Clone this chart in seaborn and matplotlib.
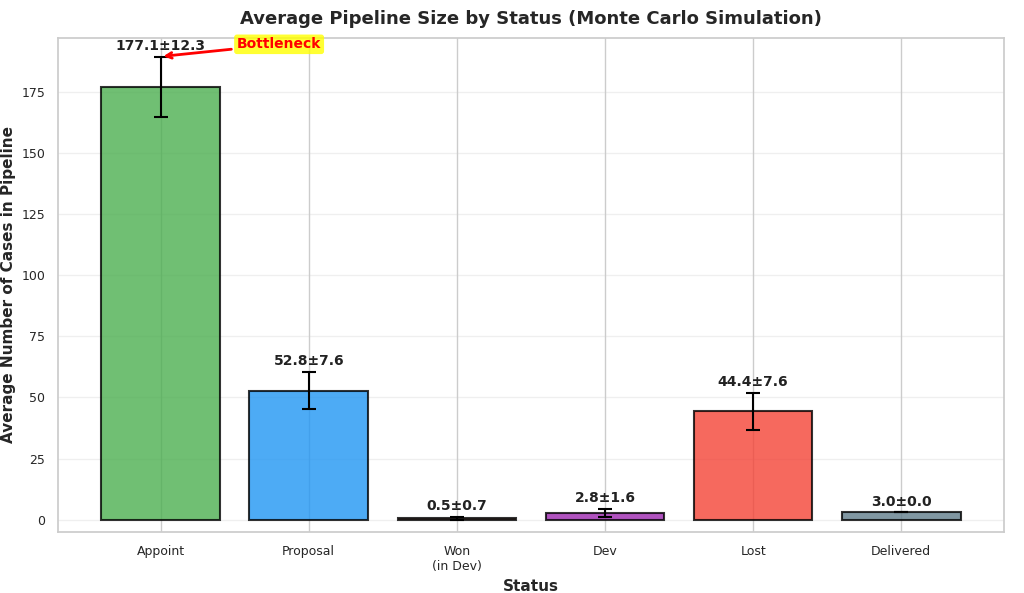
import matplotlib
matplotlib.use("Agg")
import matplotlib.pyplot as plt
import seaborn as sns

statuses = ["Appoint", "Proposal", "Won\n(in Dev)", "Dev", "Lost", "Delivered"]
means = [177.1, 52.8, 0.5, 2.8, 44.4, 3.0]
stds = [12.3, 7.6, 0.7, 1.6, 7.6, 0.0]
colors = ["#4CAF50", "#2196F3", "#795548", "#9C27B0", "#F44336", "#607D8B"]

sns.set_theme(style="whitegrid")
plt.rcParams['font.family'] = ['DejaVu Sans']
fig, ax = plt.subplots(figsize=(10.24, 5.93), dpi=100)
x = list(range(len(statuses)))
ax.bar(x, means, yerr=stds, color=colors, alpha=0.8, edgecolor="black", linewidth=1.5,
       capsize=5, error_kw=dict(ecolor="black", elinewidth=1.5, capthick=1.5), width=0.8)
for xi, m, s in zip(x, means, stds):
    ax.text(xi, m + s + 1.5, f"{m:.1f}±{s:.1f}", ha="center", va="bottom",
            fontsize=10, fontweight="bold", color="#222222")
ax.annotate("Bottleneck", xy=(0, means[0] + stds[0]), xytext=(0.8, means[0] + stds[0] + 5),
            ha="center", va="center", fontsize=10, fontweight="bold", color="red",
            bbox=dict(boxstyle="round,pad=0.2", fc="yellow", ec="none", alpha=0.8),
            arrowprops=dict(arrowstyle="->", color="red", lw=2))
ax.set_xticks(x)
ax.set_xticklabels(statuses, fontsize=9)
ax.tick_params(axis="y", labelsize=9)
ax.set_ylim(-5, 197)
ax.set_xlabel("Status", fontsize=11, fontweight="bold")
ax.set_ylabel("Average Number of Cases in Pipeline", fontsize=11, fontweight="bold")
ax.set_title("Average Pipeline Size by Status (Monte Carlo Simulation)", fontsize=13, fontweight="bold", pad=10)
ax.grid(axis="y", alpha=0.3)
for sp in ax.spines.values():
    sp.set_color("#cccccc")
fig.subplots_adjust(left=0.057, right=0.98, top=0.936, bottom=0.103)
fig.savefig("out.png", dpi=100)
